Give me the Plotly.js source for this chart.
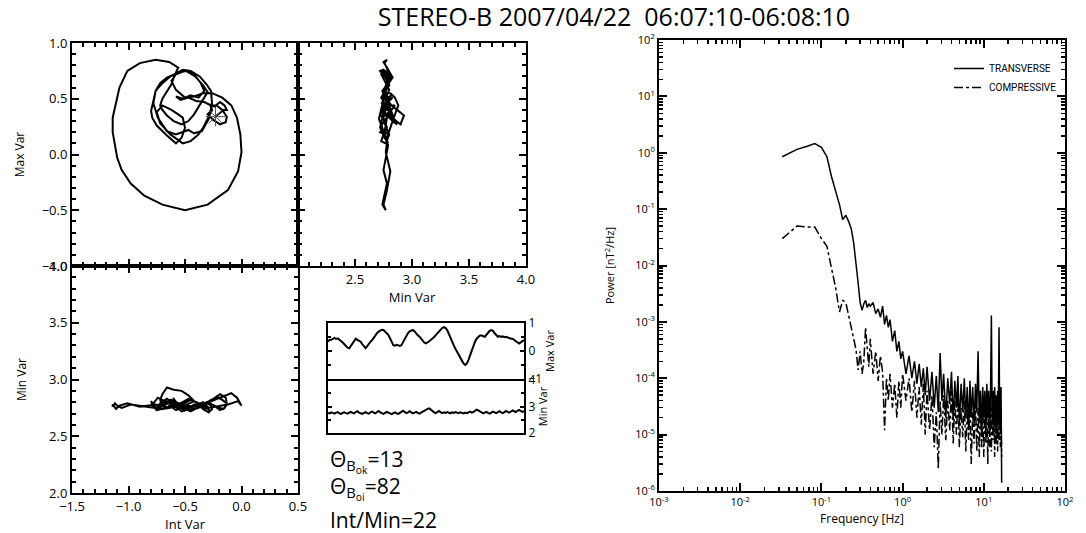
<!DOCTYPE html>
<html>
<head>
<meta charset="utf-8">
<script src="https://cdn.plot.ly/plotly-3.0.1.min.js"></script>
<style>html,body{margin:0;padding:0;background:#fff;}#chart{width:1086px;height:533px;}</style>
</head>
<body>
<div id="chart"></div>
<script>
// ---------- Minimum variance components (nT), 0.5 s samples ----------
const maxVar = [0.34,0.40,0.40,0.44,0.47,0.43,0.45,0.40,0.36,0.30,
  0.24,0.18,0.12,0.10,0.18,0.28,0.38,0.44,0.40,0.36,
  0.33,0.24,0.15,0.10,0.17,0.26,0.33,0.39,0.48,0.57,
  0.64,0.69,0.72,0.76,0.75,0.70,0.63,0.57,0.45,0.32,
  0.21,0.19,0.22,0.20,0.18,0.21,0.33,0.46,0.57,0.64,
  0.70,0.73,0.75,0.70,0.62,0.56,0.51,0.44,0.36,0.30,
  0.27,0.30,0.35,0.40,0.44,0.50,0.57,0.63,0.69,0.78,
  0.83,0.85,0.82,0.75,0.60,0.46,0.33,0.20,0.08,-0.03,
  -0.14,-0.26,-0.37,-0.45,-0.50,-0.45,-0.32,-0.15,0.02,0.18,
  0.33,0.44,0.51,0.55,0.55,0.52,0.51,0.58,0.66,0.72,
  0.75,0.72,0.64,0.57,0.51,0.53,0.50,0.52,0.49,0.51,
  0.48,0.47,0.44,0.44,0.40,0.34,0.29,0.27,0.31,0.36,
  0.39];
const intVar = [-0.23,-0.16,-0.13,-0.15,-0.19,-0.24,-0.28,-0.26,-0.28,-0.31,
  -0.34,-0.38,-0.45,-0.52,-0.63,-0.72,-0.75,-0.70,-0.62,-0.56,
  -0.52,-0.50,-0.53,-0.58,-0.66,-0.75,-0.79,-0.80,-0.78,-0.76,
  -0.72,-0.66,-0.59,-0.52,-0.45,-0.37,-0.31,-0.27,-0.26,-0.29,
  -0.35,-0.42,-0.47,-0.53,-0.58,-0.66,-0.74,-0.78,-0.76,-0.70,
  -0.63,-0.56,-0.49,-0.41,-0.34,-0.30,-0.33,-0.37,-0.42,-0.47,
  -0.53,-0.60,-0.66,-0.70,-0.72,-0.70,-0.66,-0.62,-0.60,-0.56,
  -0.64,-0.76,-0.90,-1.01,-1.08,-1.11,-1.14,-1.14,-1.12,-1.10,
  -1.06,-0.98,-0.86,-0.70,-0.50,-0.30,-0.12,-0.03,0.00,-0.01,
  -0.04,-0.09,-0.17,-0.26,-0.34,-0.42,-0.50,-0.58,-0.62,-0.58,
  -0.50,-0.42,-0.36,-0.33,-0.38,-0.45,-0.52,-0.58,-0.54,-0.47,
  -0.40,-0.33,-0.27,-0.22,-0.17,-0.13,-0.14,-0.19,-0.25,-0.30,
  -0.27];
const minVar = [2.76,2.74,2.78,2.75,2.73,2.77,2.79,2.74,2.72,2.76,
  2.78,2.75,2.73,2.77,2.80,2.76,2.74,2.79,2.82,2.77,
  2.74,2.72,2.76,2.79,2.75,2.73,2.78,2.81,2.77,2.74,
  2.79,2.83,2.78,2.75,2.72,2.76,2.80,2.77,2.74,2.71,
  2.75,2.78,2.74,2.72,2.76,2.80,2.84,2.79,2.75,2.78,
  2.82,2.78,2.74,2.77,2.80,2.76,2.73,2.77,2.81,2.86,
  2.90,2.91,2.93,2.87,2.82,2.78,2.75,2.79,2.83,2.78,
  2.75,2.78,2.76,2.79,2.77,2.74,2.78,2.76,2.79,2.77,
  2.75,2.78,2.76,2.74,2.77,2.75,2.78,2.81,2.77,2.79,
  2.84,2.88,2.85,2.81,2.78,2.74,2.77,2.80,2.76,2.73,
  2.77,2.81,2.78,2.75,2.79,2.82,2.78,2.75,2.79,2.83,
  2.80,2.77,2.81,2.85,2.82,2.79,2.84,2.87,2.83,2.80,
  2.82];

// ---------- Power spectra ----------
const freqHz = [0.033,0.05,0.067,0.083,0.1,0.117,0.133,0.15,0.167,0.183,
  0.2,0.217,0.233,0.25,0.267,0.283,0.3,0.317,0.333,0.35,
  0.367,0.383,0.4,0.433,0.467,0.5,0.533,0.567,0.6,0.633,
  0.667,0.7,0.75,0.8,0.85,0.9,0.95,1.0,
  1.1,1.2,1.3,1.4,1.5,1.6,1.7,1.8,1.9,2.0,
  2.15,2.3,2.45,2.6,2.75,2.9,3.05,3.2,3.4,3.6,
  3.8,4.0,4.2,4.4,4.6,4.8,5.0,5.25,5.5,5.75,
  6.0,6.25,6.5,6.75,7.0,7.3,7.6,7.9,8.2,8.5,
  8.8,9.1,9.4,9.7,10.0,10.3,10.6,10.9,11.2,11.5,
  11.8,12.1,12.4,12.7,13.0,13.3,13.6,13.9,14.2,14.5,
  14.8,15.1,15.4,15.7,16.0,16.3,16.6];
const powerTransverse = [0.85,1.15,1.3,1.45,1.25,0.85,0.38,0.2,0.12,0.065,
  0.078,0.06,0.045,0.025,0.012,0.005,0.0022,0.0016,0.0021,0.0024,
  0.0018,0.0021,0.0019,0.0022,0.0014,0.0017,0.0012,0.0019,0.0009,0.0013,
  0.0008,0.0011,0.00045,0.0007,0.0003,0.00045,0.00022,0.0003,
  0.00012,0.00025,0.0001,0.0002,0.00008,0.00018,0.00007,0.00015,0.00005,0.00016,
  0.00004,0.00013,0.00003,0.00011,0.000025,0.00028,0.00004,0.00012,0.00002,0.0001,
  0.000035,0.00013,0.000018,0.00009,0.00003,0.00011,0.000015,0.00008,0.000025,0.0001,
  0.00002,0.00007,0.000012,0.00009,0.00002,0.00007,0.000015,0.00008,0.000025,0.0003,
  0.000018,0.00006,0.00001,0.00007,0.00002,0.00006,0.000012,0.00008,0.00002,0.00006,
  0.00001,0.00005,0.0013,0.000015,0.00006,0.00001,0.00007,0.000018,0.00005,0.000012,
  0.00006,0.00002,0.0008,0.000015,0.00005,0.00007,0.0000014];
const powerCompressive = [0.03,0.05,0.048,0.048,0.03,0.022,0.009,0.004,0.0015,0.0024,
  0.0022,0.0012,0.0008,0.0005,0.00032,0.00014,0.0003,0.00012,0.0002,0.0008,
  0.0003,0.00016,0.0005,0.00012,0.0003,0.00009,0.00025,0.00013,0.000012,0.0001,
  0.00004,0.00012,0.00003,0.00008,0.00002,0.00009,0.00003,0.00012,
  0.00004,0.0001,0.000025,0.00009,0.00002,0.00007,0.000015,0.00008,0.00001,0.00006,
  0.000012,0.00005,0.000006,0.000025,0.0000025,0.00004,0.00001,0.00005,0.000008,0.00004,
  0.000012,0.00006,0.000007,0.00004,0.00001,0.00005,0.000006,0.00003,0.000009,0.00004,
  0.000005,0.00003,0.000008,0.00004,0.000003,0.000025,0.000007,0.00004,0.000005,0.00003,
  0.000004,0.00005,0.000006,0.00003,0.000004,0.00004,0.000007,0.00003,0.000003,0.00004,
  0.000006,0.00003,0.000005,0.00004,0.000008,0.00003,0.000004,0.00003,0.000007,0.00004,
  0.000005,0.00003,0.000008,0.00004,0.000006,0.00003,0.000004];

// ---------- Tick labels / text ----------
const hodoTicks = [-1.5,-1.0,-0.5,0.0,0.5];
const maxTicks = [-1.0,-0.5,0.0,0.5,1.0];
const minTicks = [2.0,2.5,3.0,3.5,4.0];
const minTicksTop = [2.5,3.0,3.5,4.0];
const logTickVals = [1e-6,1e-5,1e-4,1e-3,1e-2,1e-1,1,10,100];
const logTickTextY = ['10<sup>-6</sup>','10<sup>-5</sup>','10<sup>-4</sup>','10<sup>-3</sup>','10<sup>-2</sup>','10<sup>-1</sup>','10<sup>0</sup>','10<sup>1</sup>','10<sup>2</sup>'];
const logTickValsX = [1e-3,1e-2,1e-1,1,10,100];
const logTickTextX = ['10<sup>-3</sup>','10<sup>-2</sup>','10<sup>-1</sup>','10<sup>0</sup>','10<sup>1</sup>','10<sup>2</sup>'];
const seriesNames = ['TRANSVERSE','COMPRESSIVE'];

const W = 1086, H = 533;
const px = v => v / W;          // paper fraction from pixel x
const py = v => (H - v) / H;    // paper fraction from pixel y

const FONT = 'Open Sans';
const NARROW = 'Liberation Sans Narrow, Roboto, Liberation Sans, sans-serif';
const BLACK = '#000';

// minor tick positions (axis decoration, not data)
function linMinor(lo, hi, step) {
  const out = [];
  const n = Math.round((hi - lo) / step);
  for (let i = 0; i <= n; i++) out.push(+(lo + i * step).toFixed(4));
  return out;
}
function logMinor(d0, d1) {
  const out = [];
  for (let d = d0; d < d1; d++) for (let k = 2; k <= 9; k++) out.push(+(k * Math.pow(10, d)).toPrecision(3));
  return out;
}

function linAxis(lo, hi, extra) {
  return Object.assign({
    range: [lo, hi],
    showline: true, linecolor: BLACK, linewidth: 2, mirror: 'ticks',
    ticks: 'inside', ticklen: 7, tickwidth: 2, tickcolor: BLACK,
    showgrid: false, zeroline: false, fixedrange: true,
    tickfont: {family: FONT, size: 13, color: BLACK},
    minor: {tickmode: 'array', tickvals: linMinor(lo, hi, 0.1), ticks: 'inside', ticklen: 4,
            tickwidth: 2, tickcolor: BLACK, showgrid: false}
  }, extra);
}

const lineStyle = {color: BLACK, width: 2};

const traces = [
  {x: intVar, y: maxVar, xaxis: 'x', yaxis: 'y', mode: 'lines', line: lineStyle, showlegend: false},
  {x: [intVar[0]], y: [maxVar[0]], xaxis: 'x', yaxis: 'y', mode: 'markers', showlegend: false,
   marker: {symbol: 'asterisk-open', size: 16, color: '#555', line: {color: '#555', width: 1}}},
  {x: minVar, y: maxVar, xaxis: 'x2', yaxis: 'y2', mode: 'lines', line: lineStyle, showlegend: false},
  {x: intVar, y: minVar, xaxis: 'x3', yaxis: 'y3', mode: 'lines', line: lineStyle, showlegend: false},
  {y: maxVar, xaxis: 'x4', yaxis: 'y4', mode: 'lines', line: lineStyle, showlegend: false},
  {y: minVar, xaxis: 'x5', yaxis: 'y5', mode: 'lines', line: lineStyle, showlegend: false},
  {x: freqHz, y: powerTransverse, xaxis: 'x6', yaxis: 'y6', mode: 'lines', name: seriesNames[0],
   line: {color: BLACK, width: 1.5}},
  {x: freqHz, y: powerCompressive, xaxis: 'x6', yaxis: 'y6', mode: 'lines', name: seriesNames[1],
   line: {color: BLACK, width: 1.5, dash: 'dashdot'}}
];

function smallY(lo, hi, dom, label, vals) {
  return {domain: dom, range: [lo, hi], side: 'right', showline: true, linecolor: BLACK, linewidth: 2,
          mirror: 'ticks', ticks: 'inside', ticklen: 4, tickwidth: 2, tickcolor: BLACK, tickvals: vals, showgrid: false,
          zeroline: false, fixedrange: true, tickfont: {family: FONT, size: 12, color: BLACK},
          minor: {tickmode: 'array', tickvals: linMinor(lo, hi, (hi - lo) / 4), ticks: 'inside', ticklen: 3, tickwidth: 2, tickcolor: BLACK},
          title: {text: label, font: {family: FONT, size: 11, color: BLACK}, standoff: 2}};
}

function logAxis(lo, hi, dom, vals, text, minorVals, extra) {
  return Object.assign({domain: dom, type: 'log', range: [lo, hi], showline: true, linecolor: BLACK, linewidth: 2,
    mirror: 'ticks', ticks: 'inside', ticklen: 8, tickwidth: 2, tickcolor: BLACK, tickvals: vals, ticktext: text,
    showgrid: false, zeroline: false, fixedrange: true, tickfont: {family: FONT, size: 11, color: BLACK},
    minor: {tickmode: 'array', tickvals: minorVals, ticks: 'inside', ticklen: 4, tickwidth: 1.5, tickcolor: BLACK, showgrid: false}}, extra);
}

const layout = {
  width: W, height: H,
  margin: {l: 0, r: 0, t: 0, b: 0},
  title: {text: 'STEREO-B 2007/04/22\u00a0\u00a006:07:10-06:08:10', x: px(614), y: py(17),
          xanchor: 'center', yanchor: 'middle', font: {family: FONT, size: 25, color: BLACK}},
  showlegend: true,
  legend: {x: px(1062), xanchor: 'right', y: py(54), yanchor: 'top', bgcolor: 'rgba(0,0,0,0)',
           font: {family: NARROW, size: 10, color: BLACK}},

  xaxis: linAxis(-1.5, 0.5, {domain: [px(72), px(298)], tickvals: hodoTicks, showticklabels: false, anchor: 'y'}),
  yaxis: linAxis(-1, 1, {domain: [py(266), py(43)], tickvals: maxTicks, tickformat: '.1f', anchor: 'x',
                  title: {text: 'Max Var', font: {family: FONT, size: 12, color: BLACK}, standoff: 14}}),

  xaxis2: linAxis(2, 4, {domain: [px(298), px(526)], tickvals: minTicksTop, tickformat: '.1f', anchor: 'y2',
                   title: {text: 'Min Var', font: {family: FONT, size: 13, color: BLACK}, standoff: 0}}),
  yaxis2: linAxis(-1, 1, {domain: [py(266), py(43)], tickvals: maxTicks, showticklabels: false, anchor: 'x2'}),

  xaxis3: linAxis(-1.5, 0.5, {domain: [px(72), px(298)], tickvals: hodoTicks, tickformat: '.1f', anchor: 'y3',
                   title: {text: 'Int Var', font: {family: FONT, size: 13, color: BLACK}, standoff: 0}}),
  yaxis3: linAxis(2, 4, {domain: [py(493), py(266)], tickvals: minTicks, tickformat: '.1f', anchor: 'x3',
                   title: {text: 'Min Var', font: {family: FONT, size: 12, color: BLACK}, standoff: 20}}),

  xaxis4: {domain: [px(328), px(524)], range: [0, maxVar.length - 1], anchor: 'y4', showline: true, linecolor: BLACK, linewidth: 2,
           mirror: true, ticks: '', showticklabels: false, showgrid: false, zeroline: false, fixedrange: true},
  yaxis4: Object.assign(smallY(-1, 1, [py(379), py(323)], 'Max Var', [-1, 0, 1]), {anchor: 'x4'}),
  xaxis5: {domain: [px(328), px(524)], range: [0, minVar.length - 1], anchor: 'y5', showline: true, linecolor: BLACK, linewidth: 2,
           mirror: false, ticks: '', showticklabels: false, showgrid: false, zeroline: false, fixedrange: true},
  yaxis5: Object.assign(smallY(2, 4, [py(433), py(380)], 'Min Var', [2, 3, 4]), {anchor: 'x5'}),

  xaxis6: logAxis(-3, 2, [px(659), px(1065)], logTickValsX, logTickTextX, logMinor(-3, 2),
                  {anchor: 'y6', title: {text: 'Frequency [Hz]', font: {family: FONT, size: 12, color: BLACK}, standoff: 6}}),
  yaxis6: logAxis(-6, 2, [py(491), py(40)], logTickVals, logTickTextY, logMinor(-6, 2),
                  {anchor: 'x6', title: {text: 'Power [nT<sup>2</sup>/Hz]', font: {family: FONT, size: 11, color: BLACK}, standoff: 18}}),

  annotations: [
    {xref: 'paper', yref: 'paper', x: px(328), y: py(461), xanchor: 'left', yanchor: 'middle', showarrow: false,
     text: 'Θ<sub>B<sub>ok</sub></sub>=13', font: {family: FONT, size: 21, color: BLACK}},
    {xref: 'paper', yref: 'paper', x: px(328), y: py(488), xanchor: 'left', yanchor: 'middle', showarrow: false,
     text: 'Θ<sub>B<sub>oi</sub></sub>=82', font: {family: FONT, size: 21, color: BLACK}},
    {xref: 'paper', yref: 'paper', x: px(328), y: py(520), xanchor: 'left', yanchor: 'middle', showarrow: false,
     text: 'Int/Min=22', font: {family: FONT, size: 21, color: BLACK}}
  ]
};

Plotly.newPlot('chart', traces, layout, {displayModeBar: false, staticPlot: true});
</script>
</body>
</html>
